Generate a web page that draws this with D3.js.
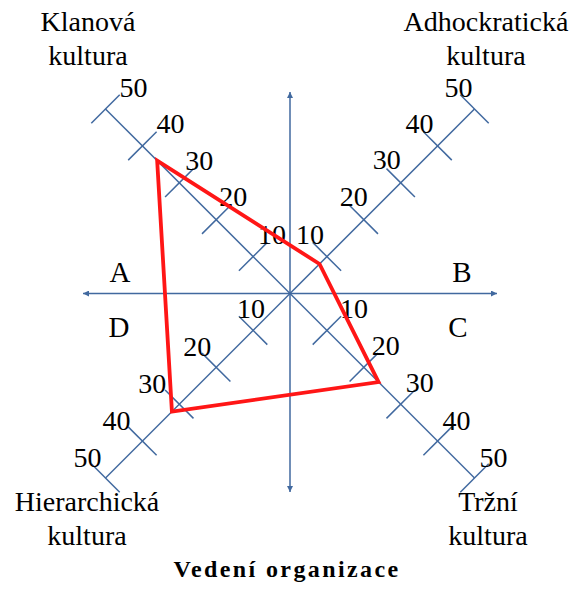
<!DOCTYPE html>
<html>
<head>
<meta charset="utf-8">
<script src="https://cdn.jsdelivr.net/npm/d3@7"></script>
<style>
  html, body { margin: 0; padding: 0; background: #fff; }
  svg { display: block; }
</style>
</head>
<body>
<svg id="chart" width="587" height="592"></svg>
<script>
// Culture types (upper-left, upper-right, lower-right, lower-left)
const cultures = [
  ["Klanová", "kultura"],
  ["Adhockratická", "kultura"],
  ["Tržní", "kultura"],
  ["Hierarchická", "kultura"]
];
// Profile score on each culture axis
const scores = [36, 8, 24, 32];
// Scale ticks
const tickValues = [10, 20, 30, 40, 50];
// Quadrant letters
const quadrants = ["A", "B", "C", "D"];
const title = "Vedení organizace";

const FONT = "'Liberation Serif', 'Times New Roman', Tinos, 'DejaVu Serif', serif";

const svg = d3.select("#chart")
  .attr("font-family", FONT);
const cx = 290, cy = 293.5;
const axisColor = "#41699f";

// distance along a diagonal, in px of each x/y component
const r = d3.scaleLinear().domain([0, 50]).range([0, 184.5]);

// unit directions of the four diagonal axes
const dirs = [[-1, -1], [1, -1], [1, 1], [-1, 1]];
// hand-placed shift of each tick label's centre from its tick crossing
const labelShift = [
  [[19, -22], [17, -23], [20, -22], [28, -23], [28, -22]],
  [[-17, -22], [-10, -23], [-14, -23], [-18, -23], [-16, -22]],
  [[27, -22], [22, -22], [19, -22], [19, -21], [19, -21]],
  [[-2, -22], [-19, -21], [-27, -21], [-26, -21], [-18, -21]]
];

// arrowhead marker
svg.append("defs").append("marker")
  .attr("id", "arrow")
  .attr("viewBox", "0 0 10 10")
  .attr("refX", 10).attr("refY", 5)
  .attr("markerWidth", 6).attr("markerHeight", 6)
  .attr("markerUnits", "userSpaceOnUse")
  .attr("orient", "auto")
  .append("path").attr("d", "M0,0 L10,5 L0,10 Z").attr("fill", axisColor);

// horizontal and vertical arrows
const cross = svg.append("g").attr("stroke", axisColor).attr("stroke-width", 1.5);
cross.append("line").attr("x1", cx).attr("y1", cy).attr("x2", 83).attr("y2", cy).attr("marker-end", "url(#arrow)");
cross.append("line").attr("x1", cx).attr("y1", cy).attr("x2", 497).attr("y2", cy).attr("marker-end", "url(#arrow)");
cross.append("line").attr("x1", cx).attr("y1", cy).attr("x2", cx).attr("y2", 92).attr("marker-end", "url(#arrow)");
cross.append("line").attr("x1", cx).attr("y1", cy).attr("x2", cx).attr("y2", 492).attr("marker-end", "url(#arrow)");

// diagonal axes with perpendicular ticks
const tickHalf = 14.2;
const axes = svg.append("g");
dirs.forEach((d, i) => {
  const g = axes.append("g");
  const end = r(d3.max(tickValues));
  g.append("line")
    .attr("x1", cx).attr("y1", cy)
    .attr("x2", cx + d[0] * end).attr("y2", cy + d[1] * end)
    .attr("stroke", axisColor).attr("stroke-width", 1.5);
  const px = -d[1], py = d[0];
  g.selectAll("line.tick").data(tickValues).join("line")
    .attr("class", "tick")
    .attr("x1", v => cx + d[0] * r(v) + px * tickHalf)
    .attr("y1", v => cy + d[1] * r(v) + py * tickHalf)
    .attr("x2", v => cx + d[0] * r(v) - px * tickHalf)
    .attr("y2", v => cy + d[1] * r(v) - py * tickHalf)
    .attr("stroke", axisColor).attr("stroke-width", 1.5);
  g.selectAll("text").data(tickValues).join("text")
    .attr("x", (v, k) => cx + d[0] * r(v) + labelShift[i][k][0])
    .attr("y", (v, k) => cy + d[1] * r(v) + labelShift[i][k][1] + 9.6)
    .attr("text-anchor", "middle")
    .attr("font-family", FONT)
    .attr("font-size", 28)
    .text(v => v);
});

// profile polygon
const pts = scores.map((s, i) => [cx + dirs[i][0] * r(s), cy + dirs[i][1] * r(s)]);
svg.append("path")
  .attr("d", d3.line()(pts) + "Z")
  .attr("fill", "none")
  .attr("stroke", "#ff1616")
  .attr("stroke-width", 3.8)
  .attr("stroke-linejoin", "miter");

// quadrant letters
const quadPos = [[120, 282], [462, 282], [458, 337], [119, 337]];
svg.append("g").selectAll("text").data(quadrants).join("text")
  .attr("x", (q, i) => quadPos[i][0]).attr("y", (q, i) => quadPos[i][1])
  .attr("text-anchor", "middle").attr("font-size", 29)
  .attr("font-family", FONT)
  .text(q => q);

// culture names at the axis ends
const namePos = [[88, 31], [486, 31], [488, 511], [87, 511]];
cultures.forEach((lines, i) => {
  const t = svg.append("text")
    .attr("text-anchor", "middle").attr("font-size", 28)
    .attr("font-family", FONT)
    .attr("x", namePos[i][0]).attr("y", namePos[i][1]);
  lines.forEach((ln, j) => {
    t.append("tspan").attr("x", namePos[i][0]).attr("dy", j === 0 ? 0 : 34).text(ln);
  });
});

// title
svg.append("text")
  .attr("x", 287).attr("y", 577)
  .attr("text-anchor", "middle")
  .attr("font-family", FONT)
  .attr("font-size", 24).attr("font-weight", "bold")
  .attr("letter-spacing", 2.4)
  .text(title);
</script>
</body>
</html>
